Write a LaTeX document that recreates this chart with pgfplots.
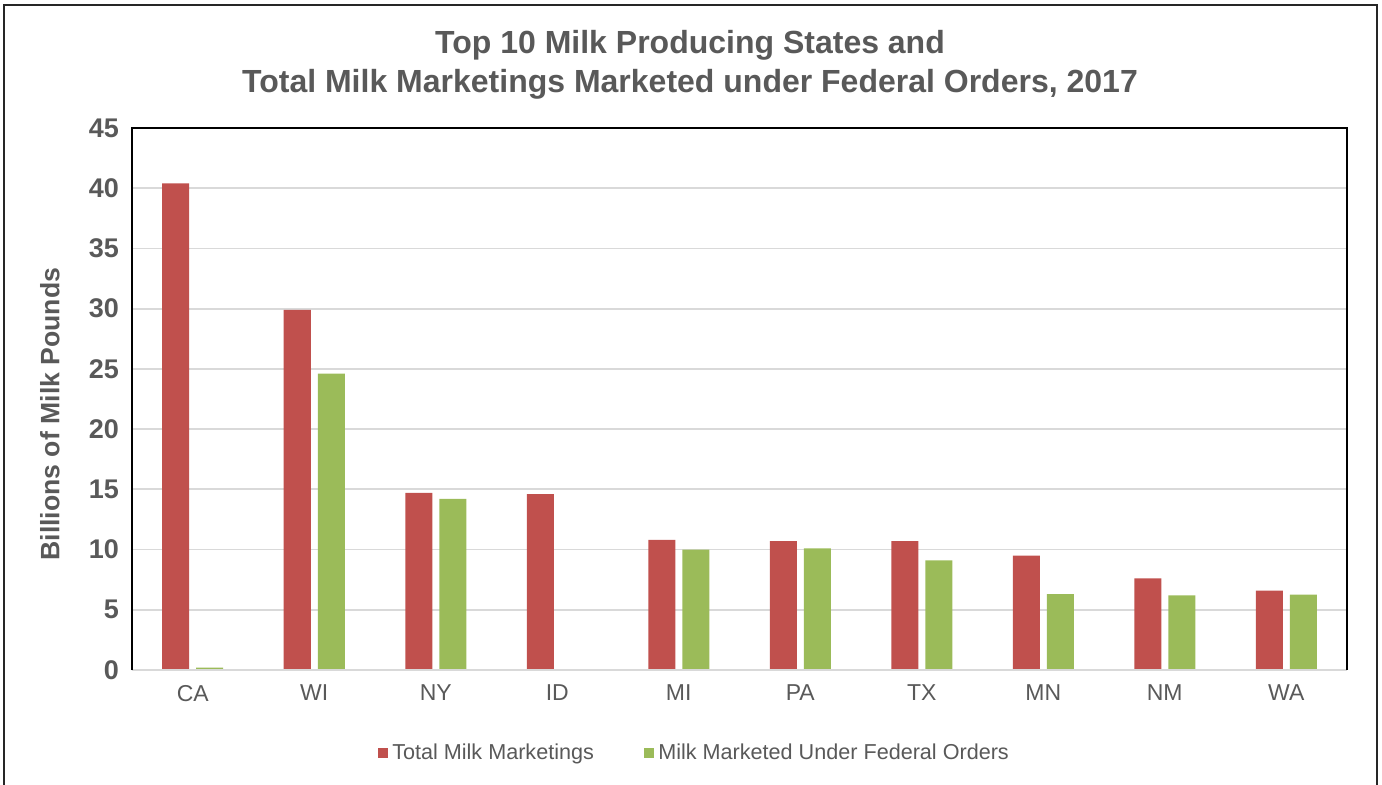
\documentclass[border=0pt]{standalone}
\usepackage{fontspec}
\setmainfont{Liberation Sans}
\usepackage{pgfplots}
\pgfplotsset{compat=1.18}
\definecolor{milkred}{HTML}{C0504D}
\definecolor{milkgreen}{HTML}{9BBB59}
\definecolor{txtgray}{HTML}{595959}
\definecolor{gridgray}{HTML}{D9D9D9}

\begin{document}
\begin{tikzpicture}
  \useasboundingbox (-66pt,-57pt) rectangle (625pt,335pt);
  % outer chart frame
  \draw[line width=1pt, black!85] (-64pt,-62pt) -- (-64pt,332.5pt) -- (622.5pt,332.5pt) -- (622.5pt,-62pt);

  \begin{axis}[
      at={(0pt,0pt)}, anchor=south west,
      width=607.5pt, height=271pt, scale only axis,
      ybar=3.5pt, bar width=13.5pt,
      xmin=-0.5, xmax=9.5,
      ymin=0, ymax=45,
      ytick={0,5,...,45},
      xtick=data,
      xticklabels={CA,WI,NY,ID,MI,PA,TX,MN,NM,WA},
      major tick length=0pt,
      axis line style={draw=none},
      ymajorgrids,
      grid style={gridgray, line width=0.9pt},
      /pgf/number format/assume math mode=true,
      ticklabel style={font=\fontsize{11.5pt}{13pt}\selectfont, text=txtgray},
      yticklabel style={font=\bfseries\fontsize{13.5pt}{15pt}\selectfont, xshift=-3pt},
      xticklabel style={yshift=-4pt},
      ylabel={Billions of Milk Pounds},
      ylabel style={font=\bfseries\fontsize{13.3pt}{15pt}\selectfont, text=txtgray,
                    at={(axis description cs:-0.0675,0.472)}, anchor=center, rotate=0},
      legend style={at={(0.4640,-0.153)}, anchor=center, draw=none,
                    font=\fontsize{10.8pt}{12pt}\selectfont, text=txtgray,
                    /tikz/every even column/.append style={column sep=23pt},
                    /tikz/every odd column/.append style={column sep=0pt},
                    nodes={inner xsep=2.2pt}},
      legend columns=2,
      legend image code/.code={\fill[#1] (0pt,-2.6pt) rectangle (4.8pt,2.6pt);},
      clip=false,
    ]
    \addplot[fill=milkred, draw=none] coordinates {
      (0,40.4) (1,29.9) (2,14.7) (3,14.6) (4,10.8) (5,10.7) (6,10.7) (7,9.5) (8,7.6) (9,6.6)
    };
    \addlegendentry{Total Milk Marketings}
    \addplot[fill=milkgreen, draw=none] coordinates {
      (0,0.2) (1,24.6) (2,14.2) (3,0) (4,10.0) (5,10.1) (6,9.1) (7,6.3) (8,6.2) (9,6.25)
    };
    \addlegendentry{Milk Marketed Under Federal Orders}

    % axis frame: black on three sides, grey base line
    \draw[gridgray, line width=1pt] (rel axis cs:0,0) -- (rel axis cs:1,0);
    \draw[black, line width=1pt] (rel axis cs:0,0) -- (rel axis cs:0,1) -- (rel axis cs:1,1) -- (rel axis cs:1,0);
  \end{axis}

  \node[anchor=base, text=txtgray, font=\bfseries\fontsize{16pt}{19pt}\selectfont] at (279pt,308.5pt)
    {Top 10 Milk Producing States and};
  \node[anchor=base, text=txtgray, font=\bfseries\fontsize{16pt}{19pt}\selectfont] at (279pt,289pt)
    {Total Milk Marketings Marketed under Federal Orders, 2017};
\end{tikzpicture}
\end{document}
